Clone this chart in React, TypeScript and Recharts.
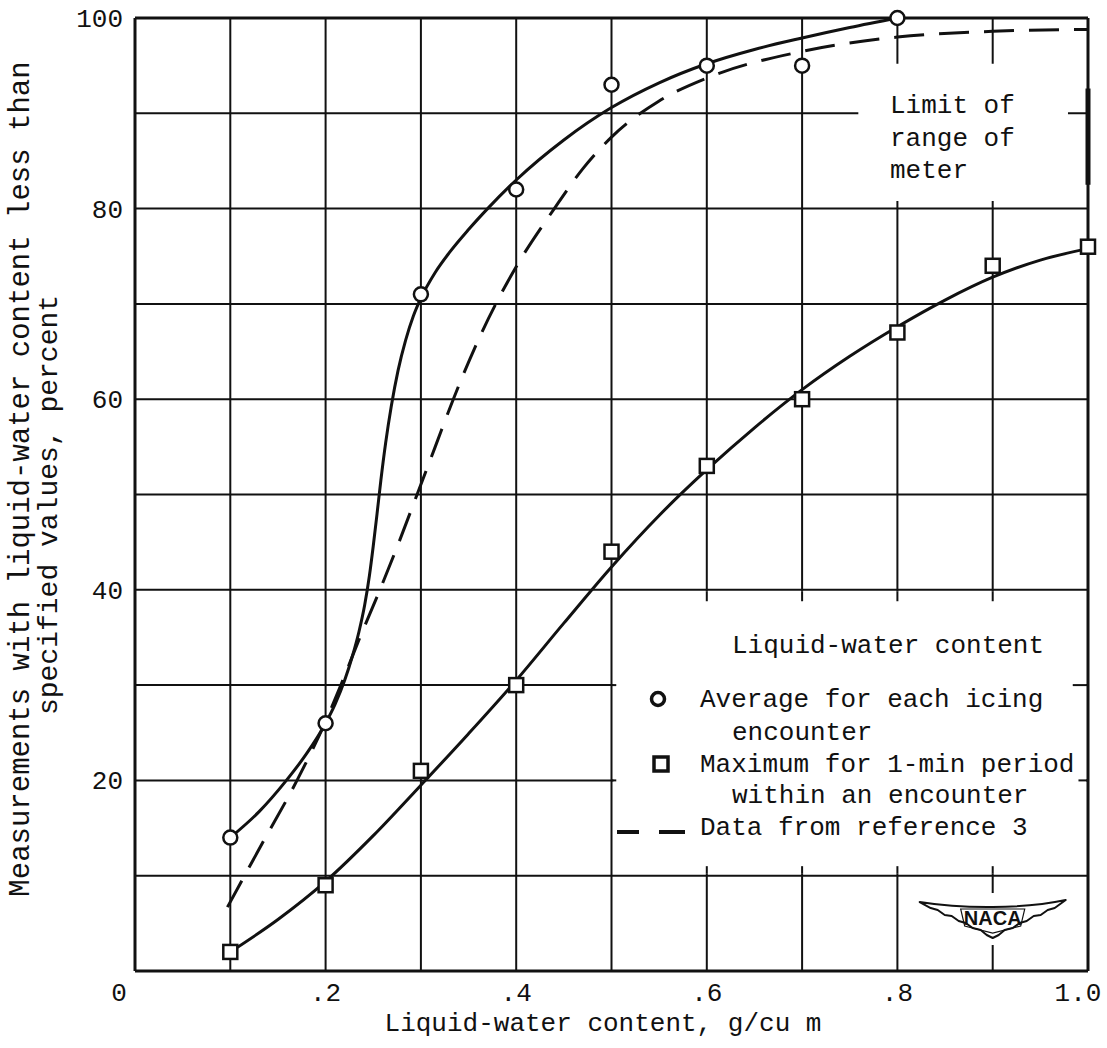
import {
  CartesianGrid,
  ComposedChart,
  Line,
  ReferenceArea,
  ReferenceDot,
  ReferenceLine,
  Scatter,
  XAxis,
  YAxis,
} from "recharts";

const FONT = "'Liberation Mono', 'DejaVu Sans Mono', monospace";
const INK = "#111";

// plotted points
const averagePoints = [
  { x: 0.1, y: 14 },
  { x: 0.2, y: 26 },
  { x: 0.3, y: 71 },
  { x: 0.4, y: 82 },
  { x: 0.5, y: 93 },
  { x: 0.6, y: 95 },
  { x: 0.7, y: 95 },
  { x: 0.8, y: 100 },
];

const maximumPoints = [
  { x: 0.1, y: 2 },
  { x: 0.2, y: 9 },
  { x: 0.3, y: 21 },
  { x: 0.4, y: 30 },
  { x: 0.5, y: 44 },
  { x: 0.6, y: 53 },
  { x: 0.7, y: 60 },
  { x: 0.8, y: 67 },
  { x: 0.9, y: 74 },
  { x: 1.0, y: 76 },
];

// faired curves
const averageCurve = [
  { x: 0.1, y: 14 },
  { x: 0.13, y: 16.7 },
  { x: 0.158, y: 19.9 },
  { x: 0.18, y: 22.8 },
  { x: 0.2, y: 26 },
  { x: 0.21, y: 28 },
  { x: 0.22, y: 30.5 },
  { x: 0.228, y: 33 },
  { x: 0.235, y: 35.6 },
  { x: 0.241, y: 38.4 },
  { x: 0.246, y: 41.5 },
  { x: 0.25, y: 44.6 },
  { x: 0.254, y: 48 },
  { x: 0.258, y: 51.5 },
  { x: 0.263, y: 55.4 },
  { x: 0.269, y: 59.3 },
  { x: 0.276, y: 63 },
  { x: 0.284, y: 66.2 },
  { x: 0.292, y: 68.7 },
  { x: 0.3, y: 70.6 },
  { x: 0.315, y: 73.3 },
  { x: 0.33, y: 75.4 },
  { x: 0.35, y: 77.8 },
  { x: 0.371, y: 80.1 },
  { x: 0.4, y: 83 },
  { x: 0.45, y: 87.2 },
  { x: 0.5, y: 90.6 },
  { x: 0.55, y: 93.2 },
  { x: 0.6, y: 95.2 },
  { x: 0.65, y: 96.7 },
  { x: 0.7, y: 97.9 },
  { x: 0.75, y: 99 },
  { x: 0.8, y: 100 },
];

const maximumCurve = [
  { x: 0.1, y: 2 },
  { x: 0.15, y: 5.4 },
  { x: 0.2, y: 9.4 },
  { x: 0.25, y: 14.2 },
  { x: 0.3, y: 19.5 },
  { x: 0.35, y: 24.9 },
  { x: 0.4, y: 30.5 },
  { x: 0.45, y: 36.5 },
  { x: 0.5, y: 42.4 },
  { x: 0.55, y: 47.8 },
  { x: 0.6, y: 52.6 },
  { x: 0.65, y: 57 },
  { x: 0.7, y: 61 },
  { x: 0.75, y: 64.5 },
  { x: 0.8, y: 67.6 },
  { x: 0.85, y: 70.4 },
  { x: 0.9, y: 72.8 },
  { x: 0.95, y: 74.6 },
  { x: 1.0, y: 75.8 },
];

const referenceCurve = [
  { x: 0.097, y: 6.7 },
  { x: 0.133, y: 13.3 },
  { x: 0.17, y: 20 },
  { x: 0.2, y: 26.2 },
  { x: 0.216, y: 30 },
  { x: 0.236, y: 35 },
  { x: 0.257, y: 40 },
  { x: 0.277, y: 45 },
  { x: 0.296, y: 50 },
  { x: 0.315, y: 55 },
  { x: 0.334, y: 60 },
  { x: 0.362, y: 66.6 },
  { x: 0.4, y: 73.9 },
  { x: 0.44, y: 80 },
  { x: 0.47, y: 84.2 },
  { x: 0.5, y: 87.5 },
  { x: 0.55, y: 91.3 },
  { x: 0.6, y: 93.7 },
  { x: 0.7, y: 96.5 },
  { x: 0.8, y: 98 },
  { x: 0.9, y: 98.6 },
  { x: 1.0, y: 98.8 },
];

const xTicks = [0, 0.1, 0.2, 0.3, 0.4, 0.5, 0.6, 0.7, 0.8, 0.9, 1.0];
const yTicks = [0, 10, 20, 30, 40, 50, 60, 70, 80, 90, 100];
const xLabelValues = [0, 0.2, 0.4, 0.6, 0.8, 1.0];
const xLabelText = ["0", ".2", ".4", ".6", ".8", "1.0"];
const yLabelValues = [20, 40, 60, 80, 100];

const legendItems = [
  ["Average for each icing", "encounter"],
  ["Maximum for 1-min period", "within an encounter"],
  ["Data from reference 3"],
];
const limitNote = ["Limit of", "range of", "meter"];

// little grid stubs left standing inside the blanked boxes
const stubs = [
  [{ x: 0.6, y: 39.8 }, { x: 0.6, y: 38.8 }],
  [{ x: 0.7, y: 39.8 }, { x: 0.7, y: 38.8 }],
  [{ x: 0.8, y: 39.8 }, { x: 0.8, y: 38.8 }],
  [{ x: 0.9, y: 39.8 }, { x: 0.9, y: 38.8 }],
  [{ x: 0.6, y: 10.2 }, { x: 0.6, y: 11 }],
  [{ x: 0.7, y: 10.2 }, { x: 0.7, y: 11 }],
  [{ x: 0.8, y: 10.2 }, { x: 0.8, y: 11 }],
  [{ x: 0.9, y: 10.2 }, { x: 0.9, y: 11 }],
  [{ x: 0.5, y: 30 }, { x: 0.505, y: 30 }],
  [{ x: 0.5, y: 20 }, { x: 0.505, y: 20 }],
  [{ x: 0.984, y: 30 }, { x: 1.0, y: 30 }],
  [{ x: 0.99, y: 20 }, { x: 1.0, y: 20 }],
];

const XTick = (props: any) => {
  const { x, y, payload } = props;
  const i = xLabelValues.indexOf(payload.value);
  if (i < 0) return <g />;
  const shift = payload.value === 0 ? -16 : payload.value === 1 ? -10 : 0;
  return (
    <text x={x + shift} y={y + 30} textAnchor="middle" fontFamily={FONT} fontSize={26} fill={INK}>
      {xLabelText[i]}
    </text>
  );
};

const YTick = (props: any) => {
  const { x, y, payload } = props;
  if (!yLabelValues.includes(payload.value)) return <g />;
  return (
    <text x={x} y={y + 9} textAnchor="end" fontFamily={FONT} fontSize={26} fill={INK}>
      {payload.value}
    </text>
  );
};

const OpenCircle = (props: any) => (
  <circle cx={props.cx} cy={props.cy} r={7} fill="#fff" stroke={INK} strokeWidth={2.5} />
);

const OpenSquare = (props: any) => (
  <rect x={props.cx - 7} y={props.cy - 7} width={14} height={14} fill="#fff" stroke={INK} strokeWidth={2.5} />
);

const NacaLogo = (props: any) => {
  const { cx, cy } = props;
  return (
    <g transform={`translate(${cx},${cy})`}>
      <rect x={-6} y={-27} width={12} height={52} fill="#fff" />
      <path
        d="M -73 -18 C -30 -11, 30 -11, 73 -20 L 62 -12 L 55 -10 L 48 -5 L 41 -4 L 34 1 L 27 3 L 20 8 L 12 10 L 6 15 L 0 18 L -6 15 L -12 10 L -20 8 L -27 3 L -34 1 L -41 -4 L -48 -5 L -55 -10 L -62 -12 Z"
        fill="#fff"
        stroke={INK}
        strokeWidth={2}
        strokeLinejoin="round"
      />
      <path d="M -32 -11 L 32 -11 L 28 6 L 0 13 L -28 6 Z" fill="none" stroke={INK} strokeWidth={1.2} />
      <text x={0} y={5} textAnchor="middle" fontFamily="'Liberation Sans', Arial, sans-serif" fontWeight="bold" fontSize={20} fill={INK}>
        NACA
      </text>
    </g>
  );
};

const LegendBox = () => (
  <g fontFamily={FONT} fontSize={26} fill={INK}>
    <text x={732} y={653}>Liquid-water content</text>
    <circle cx={658} cy={699} r={6.5} fill="#fff" stroke={INK} strokeWidth={3.5} />
    <text x={700} y={707}>{legendItems[0][0]}</text>
    <text x={732} y={740}>{legendItems[0][1]}</text>
    <rect x={654} y={757} width={14} height={14} fill="#fff" stroke={INK} strokeWidth={3.5} />
    <text x={700} y={772}>{legendItems[1][0]}</text>
    <text x={732} y={803}>{legendItems[1][1]}</text>
    <line x1={617} y1={832} x2={639} y2={832} stroke={INK} strokeWidth={4} />
    <line x1={659} y1={832} x2={685} y2={832} stroke={INK} strokeWidth={4} />
    <text x={700} y={835}>{legendItems[2][0]}</text>
  </g>
);

const LimitNote = () => (
  <g fontFamily={FONT} fontSize={26} fill={INK}>
    {limitNote.map((t, i) => (
      <text key={t} x={890} y={113 + i * 32.5}>
        {t}
      </text>
    ))}
  </g>
);

const YTitle = () => (
  <g fontFamily={FONT} fill={INK}>
    <text x={29} y={479} fontSize={29} textAnchor="middle" transform="rotate(-90 29 479)">
      Measurements with liquid-water content less than
    </text>
    <text x={57} y={505} fontSize={28} textAnchor="middle" transform="rotate(-90 57 505)">
      specified values, percent
    </text>
  </g>
);

const XTitle = () => (
  <text x={603} y={1031} textAnchor="middle" fontFamily={FONT} fontSize={26} fill={INK}>
    Liquid-water content, g/cu m
  </text>
);

export default function App() {
  return (
    <div style={{ position: "absolute", left: 0, top: 0, width: 1107, height: 1048, background: "#fff" }}>
      <ComposedChart width={1107} height={1048} margin={{ top: 18, right: 19, bottom: 0, left: 0 }}>
        <CartesianGrid stroke={INK} strokeWidth={2} />
        <XAxis
          type="number"
          dataKey="x"
          domain={[0, 1]}
          ticks={xTicks}
          interval={0}
          height={77}
          axisLine={false}
          tickLine={false}
          tickSize={0}
          tickMargin={0}
          tick={XTick}
          label={XTitle}
        />
        <YAxis
          type="number"
          dataKey="y"
          domain={[0, 100]}
          ticks={yTicks}
          interval={0}
          width={135}
          axisLine={false}
          tickLine={false}
          tickSize={0}
          tickMargin={12}
          tick={YTick}
          label={YTitle}
        />

        <ReferenceArea x1={0.502} x2={0.998} y1={10.2} y2={39.8} fill="#fff" fillOpacity={1} stroke="none" label={LegendBox} />
        <ReferenceArea x1={0.759} x2={0.979} y1={80.8} y2={95.2} fill="#fff" fillOpacity={1} stroke="none" label={LimitNote} />

        {stubs.map((s, i) => (
          <ReferenceLine key={i} segment={s} stroke={INK} strokeWidth={2} />
        ))}
        <ReferenceLine x={0} stroke={INK} strokeWidth={3} />
        <ReferenceLine x={1} stroke={INK} strokeWidth={3} />
        <ReferenceLine y={0} stroke={INK} strokeWidth={3} />
        <ReferenceLine y={100} stroke={INK} strokeWidth={3} />
        <ReferenceLine segment={[{ x: 1, y: 82.5 }, { x: 1, y: 92.6 }]} stroke={INK} strokeWidth={5} />

        <ReferenceDot x={0.9} y={5.35} r={0} shape={NacaLogo} />

        <Line data={referenceCurve} dataKey="y" type="monotone" stroke={INK} strokeWidth={3} strokeDasharray="30 15" dot={false} isAnimationActive={false} />
        <Line data={averageCurve} dataKey="y" type="monotone" stroke={INK} strokeWidth={3} dot={false} isAnimationActive={false} />
        <Line data={maximumCurve} dataKey="y" type="monotone" stroke={INK} strokeWidth={3} dot={false} isAnimationActive={false} />

        <Scatter data={averagePoints} dataKey="y" shape={OpenCircle} isAnimationActive={false} />
        <Scatter data={maximumPoints} dataKey="y" shape={OpenSquare} isAnimationActive={false} />
      </ComposedChart>
    </div>
  );
}
